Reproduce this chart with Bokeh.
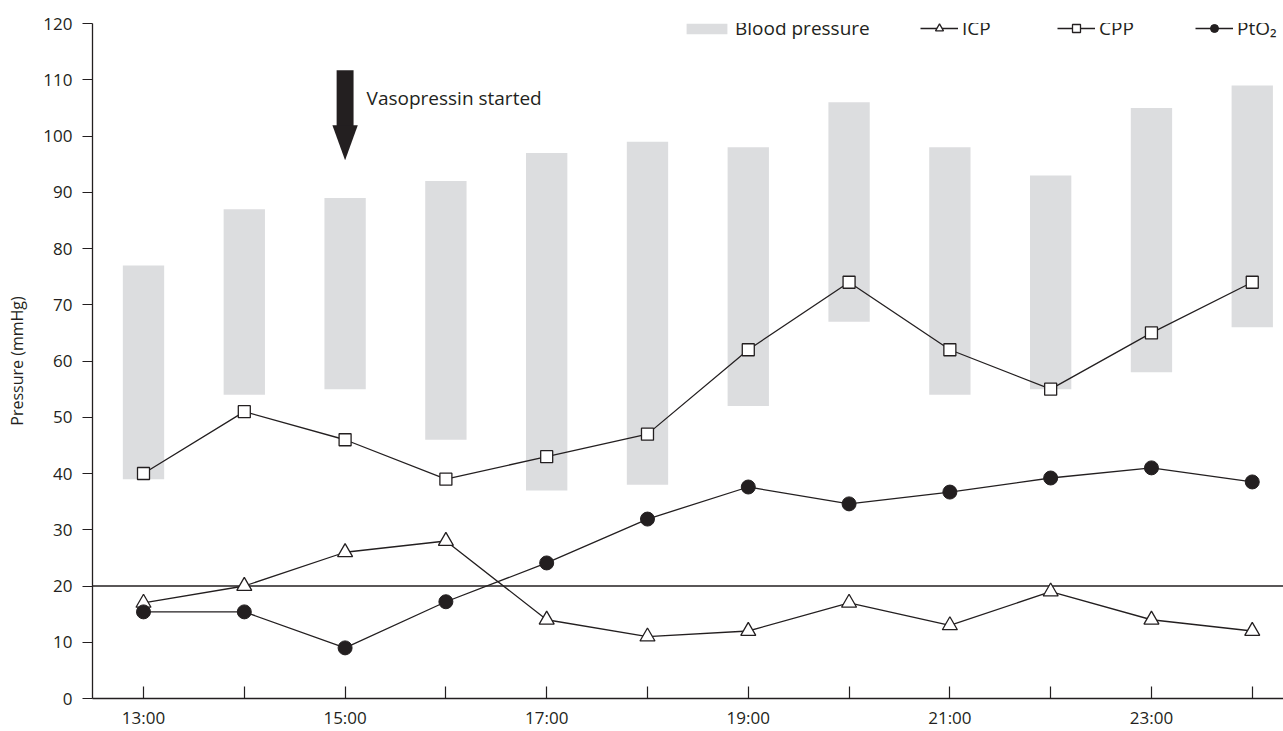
from bokeh.plotting import figure
from bokeh.models import (ColumnDataSource, FixedTicker, Span, Legend, LegendItem, Range1d, Label)
from bokeh.embed import file_html
from bokeh.resources import INLINE

# ---- data ----
hours = [13, 14, 15, 16, 17, 18, 19, 20, 21, 22, 23, 24]
bp_high = [77, 87, 89, 92, 97, 99, 98, 106, 98, 93, 105, 109]
bp_low = [39, 54, 55, 46, 37, 38, 52, 67, 54, 55, 58, 66]
icp = [17, 20, 26, 28, 14, 11, 12, 17, 13, 19, 14, 12]
cpp = [40, 51, 46, 39, 43, 47, 62, 74, 62, 55, 65, 74]
pto2 = [15.4, 15.4, 9.0, 17.2, 24.1, 31.9, 37.6, 34.6, 36.7, 39.2, 41.0, 38.5]
tick_labels = {13: "13:00", 15: "15:00", 17: "17:00", 19: "19:00", 21: "21:00", 23: "23:00"}
y_ticks = list(range(0, 121, 10))
threshold = 20
arrow_hour = 15
annotation_text = "Vasopressin started"

INK = "#231f20"
BAR = "#dcdddf"
FONT = "Open Sans"

src = ColumnDataSource(dict(x=hours, top=bp_high, bottom=bp_low, icp=icp, cpp=cpp, pto2=pto2))

p = figure(width=1283, height=731, output_backend="svg", toolbar_location=None,
           x_range=Range1d(12.494, 24.31), y_range=Range1d(0, 120),
           min_border_left=92, min_border_right=0, min_border_top=23, min_border_bottom=32)
p.outline_line_color = None
p.xgrid.visible = False
p.ygrid.visible = False
p.background_fill_color = "white"
p.border_fill_color = "white"

bars = p.vbar(x="x", top="top", bottom="bottom", width=0.41, source=src,
              fill_color=BAR, line_color=None)

p.add_layout(Span(location=threshold, dimension="width", line_color=INK,
                  line_width=1.3, level="underlay"))

l_icp = p.line("x", "icp", source=src, line_color=INK, line_width=1.3)
l_cpp = p.line("x", "cpp", source=src, line_color=INK, line_width=1.3)
l_pto = p.line("x", "pto2", source=src, line_color=INK, line_width=1.3)
m_icp = p.scatter("x", "icp", source=src, marker="triangle", size=15,
                  fill_color="white", line_color=INK, line_width=1.3)
m_cpp = p.scatter("x", "cpp", source=src, marker="square", size=12,
                  fill_color="white", line_color=INK, line_width=1.3)
m_pto = p.scatter("x", "pto2", source=src, marker="circle", size=14,
                  fill_color=INK, line_color=INK, line_width=1)

# arrow annotation
p.quad(left=[arrow_hour - 0.084], right=[arrow_hour + 0.084], top=[111.7], bottom=[101.5],
       fill_color=INK, line_color=None)
p.patch([arrow_hour - 0.126, arrow_hour + 0.126, arrow_hour], [101.9, 101.9, 95.7],
        fill_color=INK, line_color=None)
p.add_layout(Label(x=15.213, y=106.7, text=annotation_text, text_font=FONT,
                   text_font_size="19px", text_color=INK, text_baseline="middle",
                   text_align="left"))

# axes
xa = p.xaxis[0]
xa.ticker = FixedTicker(ticks=hours)
xa.major_label_overrides = {h: tick_labels.get(h, "") for h in hours}
xa.major_tick_in = 12
xa.major_tick_out = 0
xa.minor_tick_line_color = None
xa.axis_line_color = INK
xa.axis_line_width = 1.3
xa.major_tick_line_color = INK
xa.major_tick_line_width = 1.2
xa.major_label_text_font = FONT
xa.major_label_text_font_size = "17px"
xa.major_label_text_color = INK
xa.major_label_standoff = 7

ya = p.yaxis[0]
ya.ticker = FixedTicker(ticks=y_ticks)
ya.major_tick_in = 0
ya.major_tick_out = 10
ya.minor_tick_line_color = None
ya.axis_line_color = INK
ya.axis_line_width = 1.3
ya.major_tick_line_color = INK
ya.major_tick_line_width = 1.2
ya.major_label_text_font = FONT
ya.major_label_text_font_size = "17px"
ya.major_label_text_color = INK
ya.major_label_standoff = 10
ya.axis_label = "Pressure (mmHg)"
ya.axis_label_text_font = FONT
ya.axis_label_text_font_size = "16px"
ya.axis_label_text_font_style = "normal"
ya.axis_label_text_color = INK
ya.axis_label_standoff = 12

def add_legend(items, x, gw, gh, standoff):
    lg = Legend(items=items, location=(x, 653), orientation="horizontal",
                glyph_width=gw, glyph_height=gh, label_standoff=standoff, padding=0, margin=0,
                label_height=34, label_width=20, border_line_color=None, background_fill_alpha=0,
                label_text_font=FONT, label_text_font_size="19px", label_text_color=INK)
    p.add_layout(lg)

add_legend([LegendItem(label="Blood pressure", renderers=[bars])], 589, 51, 13, 3)
add_legend([LegendItem(label="ICP", renderers=[l_icp, m_icp])], 828, 38, 20, 4)
add_legend([LegendItem(label="CPP", renderers=[l_cpp, m_cpp])], 965, 38, 20, 4)
add_legend([LegendItem(label="PtO₂", renderers=[l_pto, m_pto])], 1103, 38, 20, 4)

open("out.html", "w").write(file_html(p, INLINE))
